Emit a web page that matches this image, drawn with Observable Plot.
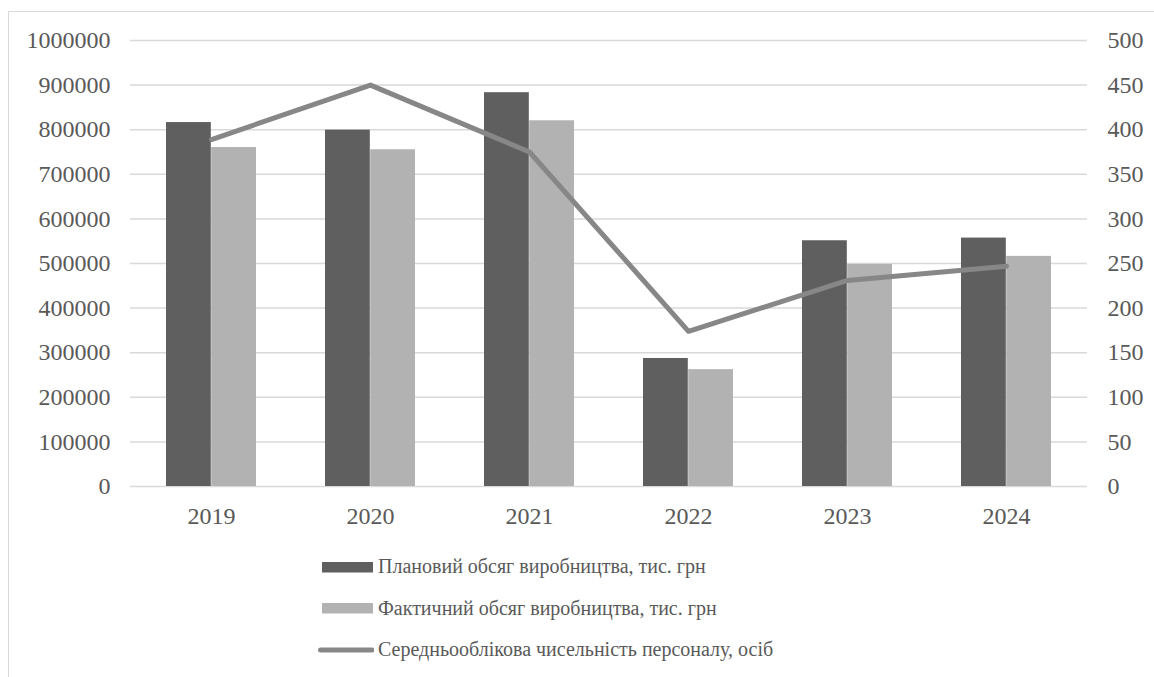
<!DOCTYPE html>
<html>
<head>
<meta charset="utf-8">
<script src="https://cdn.jsdelivr.net/npm/d3@7"></script>
<script src="https://cdn.jsdelivr.net/npm/@observablehq/plot@0.6"></script>
<style>
  html, body { margin: 0; padding: 0; background: #fff; }
  body { width: 1154px; height: 677px; position: relative; overflow: hidden; font-family: "Liberation Serif", "Times New Roman", serif; }
  #frame { position: absolute; left: 8px; top: 11px; width: 1200px; height: 700px; border-top: 1.5px solid #d9d9d9; border-left: 1.5px solid #d9d9d9; }
  #chart { position: absolute; left: 0; top: 0; }
  #legend { position: absolute; left: 318px; top: 546px; color: #595959; font-size: 20px; }
  .item { display: flex; align-items: center; height: 41.5px; }
  .item svg { margin-right: 4px; }
</style>
</head>
<body>
<div id="frame"></div>
<div id="chart"></div>
<div id="legend"></div>
<script>
// Production plan vs. actual (thousand UAH) and average headcount, 2019–2024
const years = ["2019", "2020", "2021", "2022", "2023", "2024"];
const planned = [816000, 799000, 883000, 287000, 551000, 557000];
const actual = [760000, 755000, 820000, 262000, 498000, 516000];
const headcount = [389, 450, 375, 174, 231, 247];

const leftTicks = [0, 100000, 200000, 300000, 400000, 500000, 600000, 700000, 800000, 900000, 1000000];
const rightTicks = [0, 50, 100, 150, 200, 250, 300, 350, 400, 450, 500];

const seriesNames = [
  "Плановий обсяг виробництва, тис. грн",
  "Фактичний обсяг виробництва, тис. грн",
  "Середньооблікова чисельність персоналу, осіб"
];
const colors = ["#5f5f5f", "#b2b2b2", "#878787"];

// headcount is drawn on the shared y scale: 500 persons ↔ 1 000 000
const ratio = 2000;

const planRows = years.map((y, i) => ({year: y, value: planned[i]}));
const factRows = years.map((y, i) => ({year: y, value: actual[i]}));
const staffRows = years.map((y, i) => ({year: y, value: headcount[i] * ratio}));

const W = 1154;
const plot = Plot.plot({
  width: W,
  height: 540,
  marginLeft: 130,
  marginRight: 67,
  marginTop: 40,
  marginBottom: 54,
  style: {fontFamily: "'Liberation Serif', 'Times New Roman', serif", fontSize: "24px", color: "#595959", background: "transparent"},
  x: {domain: years, paddingInner: 0.4326, paddingOuter: 0.2163, label: null},
  y: {domain: [0, 1000000], label: null},
  marks: [
    Plot.ruleY(leftTicks, {stroke: "#d9d9d9", strokeWidth: 1.5}),
    Plot.barY(planRows, {x: "year", y: "value", fill: colors[0], insetRight: 45.2}),
    Plot.barY(factRows, {x: "year", y: "value", fill: colors[1], insetLeft: 45.2}),
    Plot.line(staffRows, {x: "year", y: "value", stroke: colors[2], strokeWidth: 5, strokeLinejoin: "round", strokeLinecap: "round"}),
    Plot.axisY({anchor: "left", ticks: leftTicks, tickSize: 0, tickPadding: 20, tickFormat: d => String(d), label: null}),
    Plot.axisY({anchor: "right", ticks: rightTicks.map(v => v * ratio), tickSize: 0, tickPadding: 20, tickFormat: d => String(d / ratio), label: null}),
    Plot.axisX({tickSize: 0, tickPadding: 20, label: null})
  ]
});
document.getElementById("chart").appendChild(plot);

// legend: two bar swatches and one line swatch, stacked
const legend = document.getElementById("legend");
seriesNames.forEach((name, i) => {
  const row = document.createElement("div");
  row.className = "item";
  const sw = i < 2
    ? `<svg width="56" height="12"><rect x="4" y="1" width="51" height="10.5" fill="${colors[i]}"/></svg>`
    : `<svg width="56" height="12"><line x1="2.5" y1="6" x2="54" y2="6" stroke="${colors[i]}" stroke-width="5" stroke-linecap="round"/></svg>`;
  row.innerHTML = sw + `<span>${name}</span>`;
  legend.appendChild(row);
});
</script>
</body>
</html>
